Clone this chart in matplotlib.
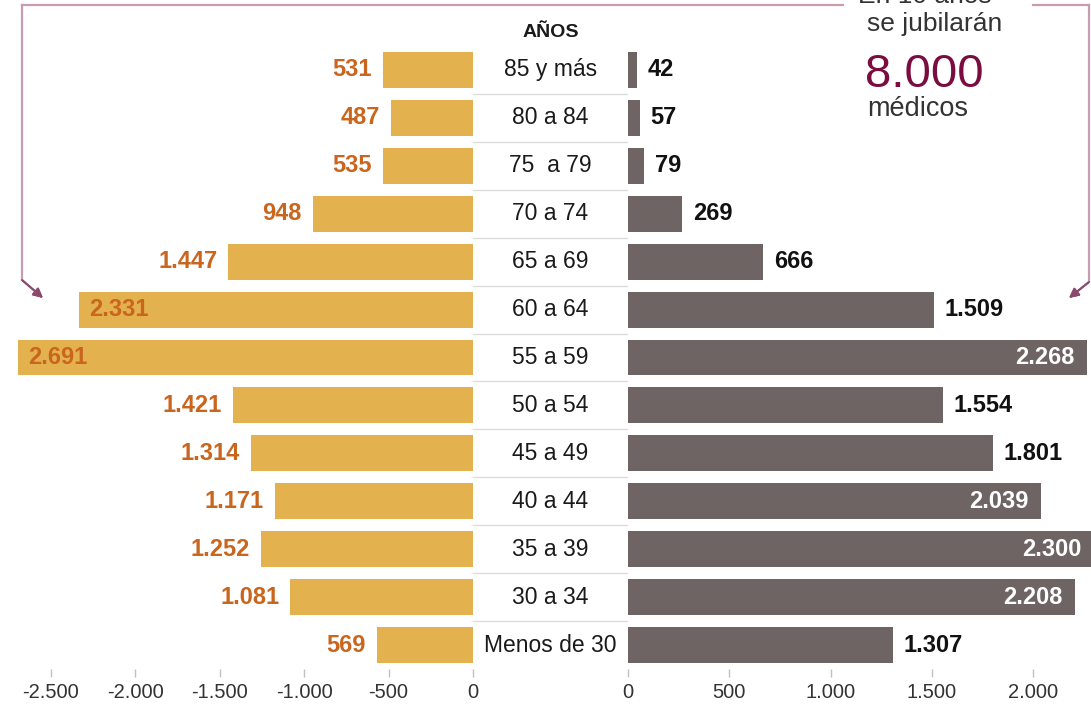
import matplotlib
matplotlib.use("Agg")
import matplotlib.pyplot as plt
from matplotlib.lines import Line2D

plt.rcParams['font.family'] = ['Liberation Sans', 'DejaVu Sans']

# médicos por tramo de edad (izquierda / derecha)
grupos = ["85 y más", "80 a 84", "75  a 79", "70 a 74", "65 a 69", "60 a 64",
          "55 a 59", "50 a 54", "45 a 49", "40 a 44", "35 a 39", "30 a 34",
          "Menos de 30"]
izquierda = [531, 487, 535, 948, 1447, 2331, 2691, 1421, 1314, 1171, 1252, 1081, 569]
derecha = [42, 57, 79, 269, 666, 1509, 2268, 1554, 1801, 2039, 2300, 2208, 1307]
ticks_izq = [-2500, -2000, -1500, -1000, -500, 0]
ticks_der = [0, 500, 1000, 1500, 2000]

ORO = "#e4b14f"
GRIS = "#6e6463"
NARANJA = "#c9651d"
MALVA = "#c99cb2"
GRANATE = "#7b0c3f"

W, H = 1091, 707
fig = plt.figure(figsize=(W / 100, H / 100), dpi=100)


def px_rect(x0, x1, top, bottom):
    return [x0 / W, 1 - bottom / H, (x1 - x0) / W, (bottom - top) / H]


def miles(v):
    s = f"{abs(v):,}".replace(",", ".")
    return "-" + s if v < 0 else s


top, bottom = 46.0, 669.0
ax_l = fig.add_axes(px_rect(10, 473, top, bottom))
ax_c = fig.add_axes(px_rect(473, 628, top, bottom))
ax_r = fig.add_axes(px_rect(628, 1091, top, bottom))

y = list(range(len(grupos)))
for ax in (ax_l, ax_c, ax_r):
    ax.set_ylim(len(grupos) - 0.5, -0.5)
    for s in ax.spines.values():
        s.set_visible(False)
    ax.set_yticks([])

# lado izquierdo
ax_l.barh(y, [-v for v in izquierda], height=0.75, color=ORO)
ax_l.set_xlim(-2740, 0)
ax_l.set_xticks(ticks_izq)
ax_l.set_xticklabels([miles(t) for t in ticks_izq])
for yi, v in zip(y, izquierda):
    if v > 2000:
        ax_l.annotate(miles(v), (-v, yi), xytext=(7, 0), textcoords="offset points",
                      ha="left", va="center", fontsize=17, fontweight="bold", color=NARANJA)
    else:
        ax_l.annotate(miles(v), (-v, yi), xytext=(-8, 0), textcoords="offset points",
                      ha="right", va="center", fontsize=17, fontweight="bold", color=NARANJA)

# lado derecho
ax_r.barh(y, derecha, height=0.75, color=GRIS)
ax_r.set_xlim(0, 2286)
ax_r.set_xticks(ticks_der)
ax_r.set_xticklabels([miles(t) for t in ticks_der])
for yi, v in zip(y, derecha):
    if v > 2000:
        ax_r.annotate(miles(v), (v, yi), xytext=(-9, 0), textcoords="offset points",
                      ha="right", va="center", fontsize=17, fontweight="bold",
                      color="white", annotation_clip=False)
    else:
        ax_r.annotate(miles(v), (v, yi), xytext=(8, 0), textcoords="offset points",
                      ha="left", va="center", fontsize=17, fontweight="bold", color="#111111")

for ax in (ax_l, ax_r):
    ax.tick_params(axis="x", length=6, width=1, color="#c0c0c0", labelsize=14.5,
                   labelcolor="#333333", pad=4)

# columna central con los tramos
ax_c.set_xlim(0, 1)
ax_c.set_xticks([])
for yi, g in zip(y, grupos):
    ax_c.text(0.5, yi, g, ha="center", va="center", fontsize=16.5, color="#1a1a1a")
for yi in y[:-1]:
    ax_c.plot([0, 1], [yi + 0.5, yi + 0.5], color="#dcdcdc", lw=1)
ax_c.text(0.5, -0.78, "AÑOS", ha="center", va="center", fontsize=14,
          fontweight="bold", color="#1a1a1a", clip_on=False)


# marco con flechas
def fx(x):
    return x / W


def fy(yp):
    return 1 - yp / H


for xs, ys in [([22, 843], [5, 5]), ([22, 22], [5, 280]),
               ([1033, 1089], [5, 5]), ([1089, 1089], [5, 282])]:
    fig.add_artist(Line2D([fx(x) for x in xs], [fy(v) for v in ys],
                          color=MALVA, lw=1.6, transform=fig.transFigure))

for (x0, y0), (x1, y1) in [((22, 280), (43, 298)), ((1089, 282), (1069, 298))]:
    fig.add_artist(plt.annotate("", xy=(fx(x1), fy(y1)), xytext=(fx(x0), fy(y0)),
                                xycoords="figure fraction", textcoords="figure fraction",
                                arrowprops=dict(arrowstyle="-|>", color="#8a4a6e", lw=1.4,
                                                mutation_scale=14, shrinkA=0, shrinkB=0)))

fig.text(fx(858), fy(3), "En 10 años", ha="left", va="baseline", fontsize=19, color="#333333")
fig.text(fx(867), fy(31), "se jubilarán", ha="left", va="baseline", fontsize=19, color="#333333")
fig.text(fx(865), fy(87), "8.000", ha="left", va="baseline", fontsize=34, color=GRANATE)
fig.text(fx(867), fy(116), "médicos", ha="left", va="baseline", fontsize=19.5, color="#333333")

fig.savefig("out.png", dpi=100, facecolor="white")
